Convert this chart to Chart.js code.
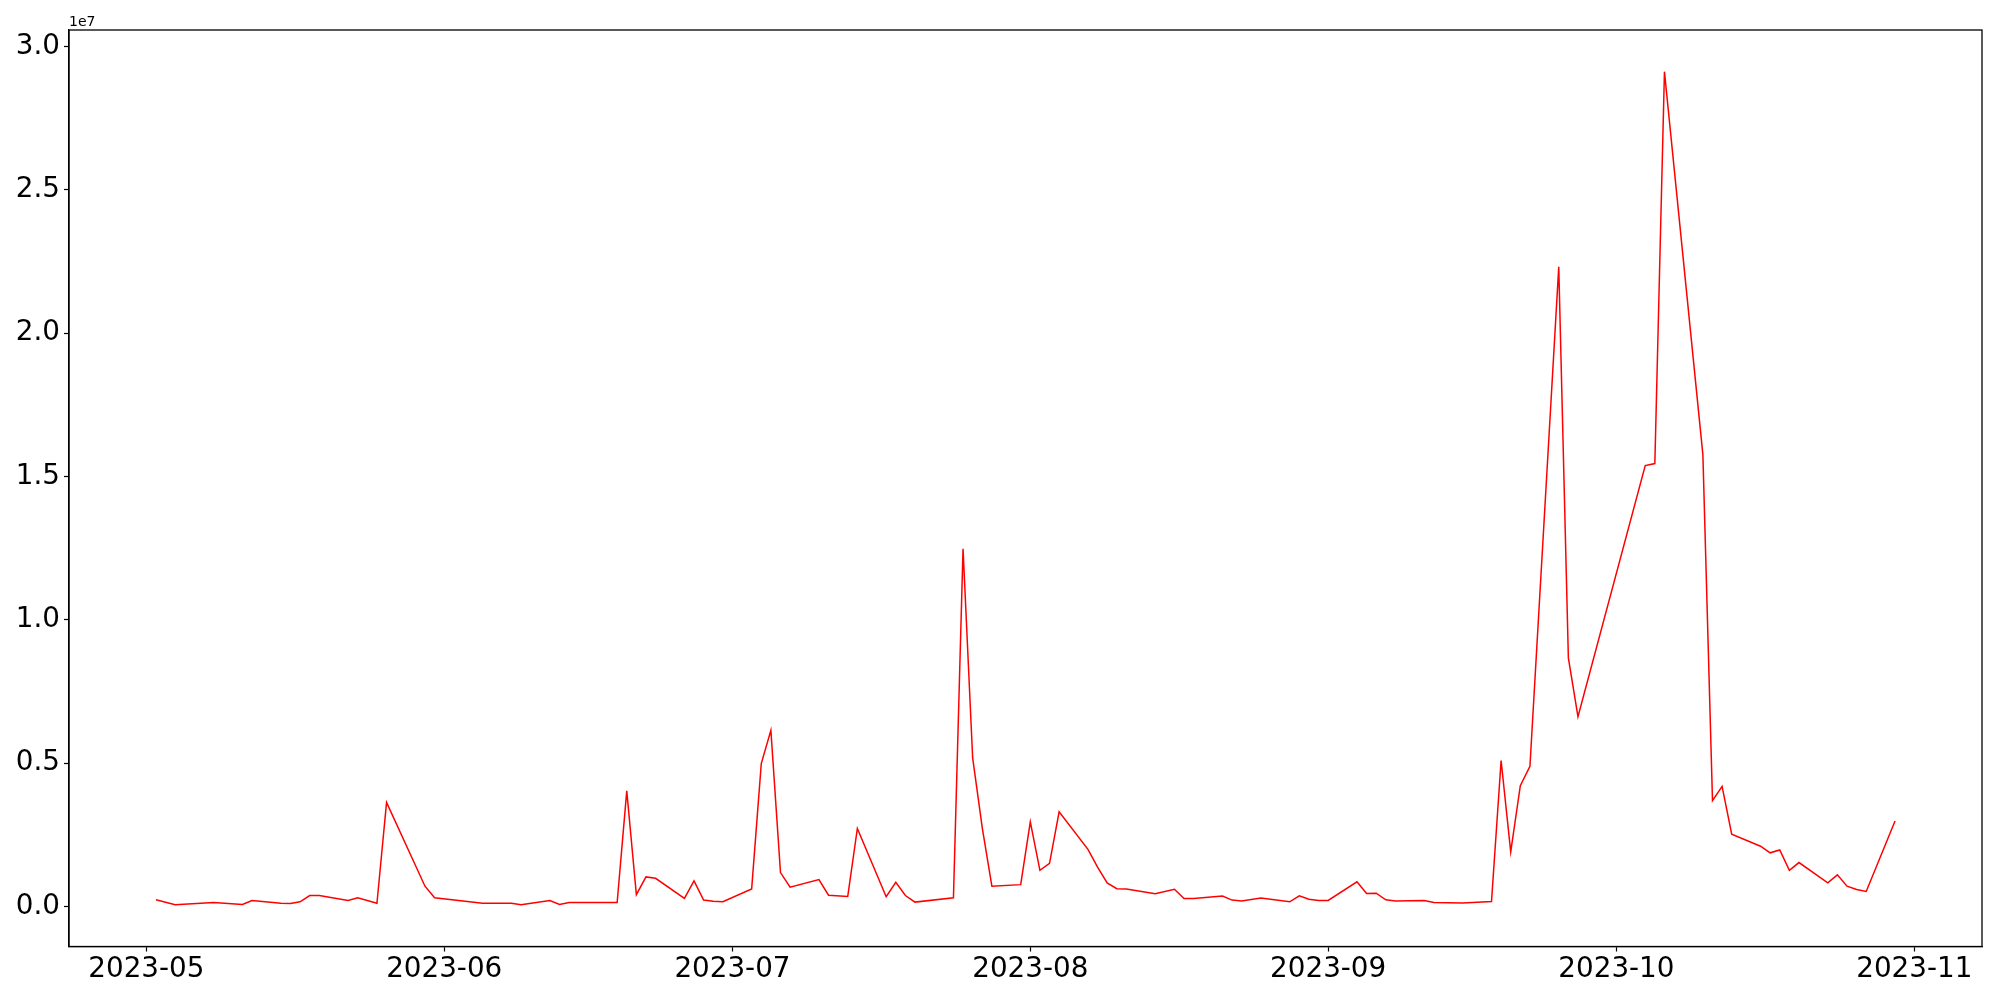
<!DOCTYPE html>
<html>
<head>
<meta charset="utf-8">
<script src="https://cdn.jsdelivr.net/npm/chart.js@4.4.0/dist/chart.umd.min.js"></script>
<style>
  html, body { margin: 0; padding: 0; background: #fff; }
  #wrap { width: 2000px; height: 1000px; }
</style>
</head>
<body>
<div id="wrap"><canvas id="chart" width="2000" height="1000"></canvas></div>
<script>
// Dates of the series (daily, with gaps)
const dates = [
  '2023-05-02','2023-05-04','2023-05-08','2023-05-11','2023-05-12','2023-05-15','2023-05-16','2023-05-17',
  '2023-05-18','2023-05-19','2023-05-22','2023-05-23','2023-05-25','2023-05-26','2023-05-30','2023-05-31',
  '2023-06-05','2023-06-08','2023-06-09','2023-06-12','2023-06-13','2023-06-14','2023-06-19','2023-06-20',
  '2023-06-21','2023-06-22','2023-06-23','2023-06-26','2023-06-27','2023-06-28','2023-06-29','2023-06-30',
  '2023-07-03','2023-07-04','2023-07-05','2023-07-06','2023-07-07','2023-07-10','2023-07-11','2023-07-13',
  '2023-07-14','2023-07-17','2023-07-18','2023-07-19','2023-07-20','2023-07-24','2023-07-25','2023-07-26',
  '2023-07-27','2023-07-28','2023-07-31','2023-08-01','2023-08-02','2023-08-03','2023-08-04','2023-08-07',
  '2023-08-08','2023-08-09','2023-08-10','2023-08-11','2023-08-14','2023-08-16','2023-08-17','2023-08-18',
  '2023-08-21','2023-08-22','2023-08-23','2023-08-25','2023-08-28','2023-08-29','2023-08-30','2023-08-31',
  '2023-09-01','2023-09-04','2023-09-05','2023-09-06','2023-09-07','2023-09-08','2023-09-11','2023-09-12',
  '2023-09-15','2023-09-18','2023-09-19','2023-09-20','2023-09-21','2023-09-22','2023-09-25','2023-09-26',
  '2023-09-27','2023-10-04','2023-10-05','2023-10-06','2023-10-10','2023-10-11','2023-10-12','2023-10-13',
  '2023-10-16','2023-10-17','2023-10-18','2023-10-19','2023-10-20','2023-10-23','2023-10-24','2023-10-25',
  '2023-10-26','2023-10-27','2023-10-30'
];

// Values
const values = [
  230000, 56000, 136000, 66000, 206000, 110000, 100000, 160000,
  380000, 380000, 206000, 300000, 110000, 3630000, 705000, 300000,
  110000, 110000, 55000, 206000, 66000, 136000, 136000, 4030000,
  410000, 1030000, 980000, 280000, 890000, 225000, 180000, 166000,
  610000, 4980000, 6140000, 1180000, 670000, 935000, 390000, 350000,
  2720000, 340000, 840000, 380000, 150000, 300000, 12480000, 5180000,
  2740000, 705000, 760000, 2950000, 1260000, 1500000, 3300000, 1990000,
  1370000, 820000, 620000, 610000, 440000, 600000, 275000, 275000,
  360000, 220000, 190000, 290000, 160000, 370000, 250000, 210000,
  210000, 860000, 450000, 460000, 230000, 190000, 210000, 136000,
  120000, 170000, 5090000, 1900000, 4210000, 4890000, 22310000, 8670000,
  6620000, 15380000, 15450000, 29120000, 15760000, 3690000, 4190000, 2520000,
  2100000, 1870000, 1970000, 1260000, 1530000, 820000, 1100000, 705000,
  590000, 520000, 2980000
];

// Tick labels
const monthTicks = ['2023-05', '2023-06', '2023-07', '2023-08', '2023-09', '2023-10', '2023-11'];
const yTicks = [0, 5000000, 10000000, 15000000, 20000000, 25000000, 30000000];

function dayOf(s) {
  const p = s.split('-').map(Number);
  return Date.UTC(p[0], p[1] - 1, p[2] || 1) / 86400000;
}

const points = dates.map((d, i) => ({ x: dayOf(d), y: values[i] }));
const xs = points.map(p => p.x);
const xMin = Math.min(...xs), xMax = Math.max(...xs);
const yMin = Math.min(...values), yMax = Math.max(...values);
const xPad = (xMax - xMin) * 0.05, yPad = (yMax - yMin) * 0.05;

const font = { family: 'DejaVu Sans', size: 27.8 };

// frame on all four sides plus the offset label
const framePlugin = {
  id: 'frame',
  afterDraw(chart) {
    const a = chart.chartArea, ctx = chart.ctx;
    ctx.save();
    ctx.strokeStyle = '#000';
    ctx.lineWidth = 1.3;
    ctx.strokeRect(a.left, a.top, a.right - a.left, a.bottom - a.top);
    ctx.fillStyle = '#000';
    ctx.font = '14px "DejaVu Sans"';
    ctx.textAlign = 'left';
    ctx.textBaseline = 'alphabetic';
    ctx.fillText('1e7', a.left, a.top - 4);
    ctx.restore();
  }
};

new Chart(document.getElementById('chart'), {
  type: 'line',
  data: {
    datasets: [{
      data: points,
      borderColor: '#ff0000',
      borderWidth: 1.5,
      pointRadius: 0,
      tension: 0,
      fill: false
    }]
  },
  options: {
    responsive: false,
    animation: false,
    devicePixelRatio: 1,
    layout: { padding: { top: 30, right: 18, left: 0, bottom: 0 } },
    plugins: { legend: { display: false }, tooltip: { enabled: false } },
    scales: {
      x: {
        type: 'linear',
        min: xMin - xPad,
        max: xMax + xPad,
        afterBuildTicks: s => { s.ticks = monthTicks.map(m => ({ value: dayOf(m) })); },
        afterFit: s => { s.height = 53.5; },
        ticks: {
          callback: (v, i) => monthTicks[i],
          font: font,
          color: '#000',
          maxRotation: 0,
          autoSkip: false,
          padding: 2
        },
        grid: { drawOnChartArea: false, tickLength: 5, tickColor: '#000', tickWidth: 1.2 },
        border: { color: '#000', width: 1.3 }
      },
      y: {
        min: yMin - yPad,
        max: yMax + yPad,
        afterBuildTicks: s => { s.ticks = yTicks.map(v => ({ value: v })); },
        afterFit: s => { s.width = 69; },
        ticks: {
          callback: v => (v / 1e7).toFixed(1),
          font: font,
          color: '#000',
          padding: 4
        },
        grid: { drawOnChartArea: false, tickLength: 5, tickColor: '#000', tickWidth: 1.2 },
        border: { color: '#000', width: 1.3 }
      }
    }
  },
  plugins: [framePlugin]
});
</script>
</body>
</html>
